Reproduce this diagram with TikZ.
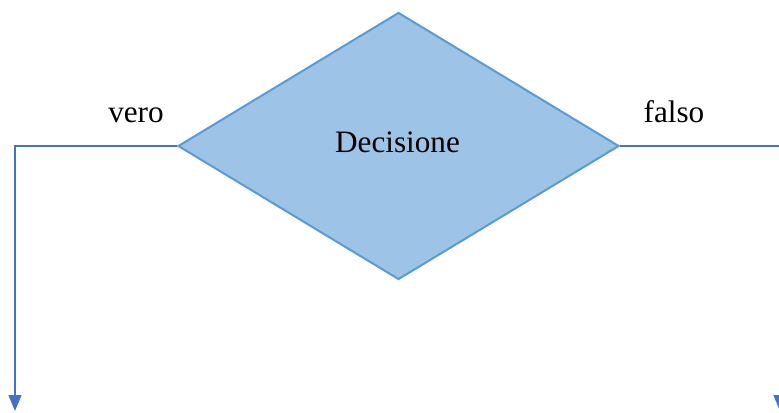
\documentclass[tikz,border=0pt]{standalone}
\usepackage{fontspec}
\setmainfont{Liberation Serif}
\usetikzlibrary{shapes.geometric, arrows.meta}

\definecolor{decfill}{HTML}{9DC3E6}
\definecolor{decline}{HTML}{5B9BD5}
\definecolor{flowline}{HTML}{4472C4}

\tikzset{
  decision/.style={diamond, draw=decline, fill=decfill, line width=1pt,
    minimum width=220.5pt, minimum height=133.5pt, inner sep=0pt},
  flow/.style={draw=flowline, line width=0.7pt,
    -{Triangle[width=6.5pt, length=8pt]}},
  lbl/.style={inner sep=0pt, anchor=base, font=\fontsize{15.6}{18}\selectfont}
}

\begin{document}
\begin{tikzpicture}[x=0.5pt, y=-0.5pt]
      \useasboundingbox (0, 0) rectangle (779, 412);

      \node[decision] (dec) at (398.5, 146) {};
      \node[lbl] (dectext) at (397.5, 152) {Decisione};

      \node[lbl] (vero) at (136, 122) {vero};
      \node[lbl] (falso) at (674, 122) {falso};

      \coordinate (lcorner) at (15, 146);
      \coordinate (lend) at (15, 411);
      \coordinate (rcorner) at (780, 146);
      \coordinate (rend) at (780, 411);

      \draw[flow] (dec.west) -- (lcorner) -- (lend);
      \draw[flow] (dec.east) -- (rcorner) -- (rend);

\end{tikzpicture}
\end{document}
